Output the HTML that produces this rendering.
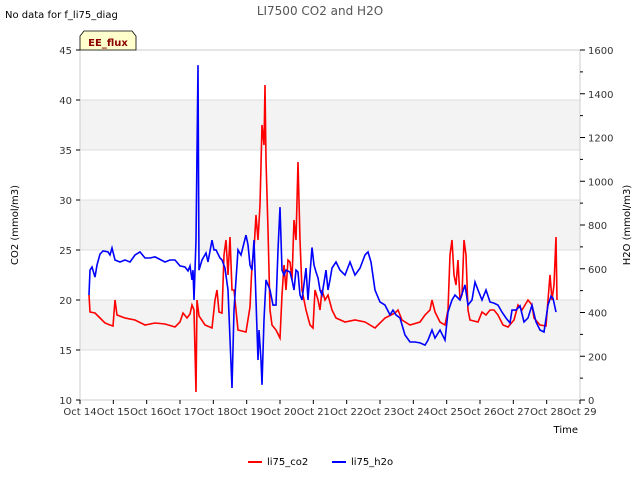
<!DOCTYPE html>
<html><head><meta charset="utf-8"><style>
body{margin:0;background:#fff;font-family:"Liberation Sans","DejaVu Sans",sans-serif}
svg text{font-family:"DejaVu Sans","Liberation Sans",sans-serif}
</style></head><body>
<svg id="chart" width="640" height="480" xmlns="http://www.w3.org/2000/svg">
<rect width="640" height="480" fill="#fff"/>
<text x="5" y="18" font-size="10" fill="#000">No data for f_li75_diag</text>
<text x="320" y="15" font-size="12" fill="#555" text-anchor="middle">LI7500 CO2 and H2O</text>
<g id="bands"></g>
<g id="grid"></g>
<rect x="80" y="50" width="500" height="350" fill="none" stroke="#ccc"/>
<g id="xaxis"></g>
<g id="yleft"></g>
<g id="yright"></g>
<g clip-path="url(#clip)">
<clipPath id="clip"><rect x="80" y="50" width="500" height="350"/></clipPath>
<path id="co2line" fill="none" stroke="#f00" stroke-width="1.6"/>
<path id="h2oline" fill="none" stroke="#00f" stroke-width="1.6"/>
</g>
<g>
<path d="M80,50 L80,36 L84,31 L132,31 L136,36 L136,50 Z" fill="#ffffcc" stroke="#000" stroke-width="0.8"/>
<text x="108" y="46" font-size="10" font-weight="bold" fill="#8b0000" text-anchor="middle">EE_flux</text>
</g>
<text transform="translate(18,225) rotate(-90)" font-size="10" text-anchor="middle">CO2 (mmol/m3)</text>
<text transform="translate(630,225) rotate(-90)" font-size="10" text-anchor="middle">H2O (mmol/m3)</text>
<text x="578" y="433" font-size="10" text-anchor="end">Time</text>
<g>
<line x1="248" y1="462" x2="262" y2="462" stroke="#f00" stroke-width="2"/>
<text x="267" y="465" font-size="10">li75_co2</text>
<line x1="332" y1="462" x2="346" y2="462" stroke="#00f" stroke-width="2"/>
<text x="351" y="465" font-size="10">li75_h2o</text>
</g>
</svg>
<script>
const xTickLabels=["Oct 14","Oct 15","Oct 16","Oct 17","Oct 18","Oct 19","Oct 20","Oct 21","Oct 22","Oct 23","Oct 24","Oct 25","Oct 26","Oct 27","Oct 28","Oct 29"];
const yLeftTicks=[10,15,20,25,30,35,40,45];
const yRightTicks=[0,200,400,600,800,1000,1200,1400,1600];
const co2Days=[.27,.30,.45,.6,.75,.9,.99,1.05,1.11,1.35,1.65,1.95,2.25,2.55,2.85,3.0,3.09,3.21,3.3,3.36,3.42,3.48,3.51,3.57,3.75,3.96,4.05,4.11,4.17,4.26,4.32,4.38,4.44,4.5,4.56,4.62,4.74,4.98,5.1,5.16,5.22,5.28,5.34,5.4,5.46,5.52,5.55,5.58,5.64,5.7,5.76,5.88,6.0,6.06,6.12,6.18,6.24,6.3,6.36,6.42,6.48,6.54,6.6,6.66,6.78,6.9,6.99,7.05,7.14,7.2,7.26,7.35,7.44,7.56,7.68,7.95,8.25,8.55,8.85,9.15,9.45,9.54,9.66,9.9,10.2,10.35,10.5,10.56,10.65,10.8,10.95,11.04,11.1,11.16,11.22,11.28,11.34,11.4,11.46,11.52,11.58,11.64,11.7,11.94,12.06,12.18,12.3,12.42,12.54,12.69,12.84,13.02,13.14,13.26,13.44,13.56,13.62,13.8,13.98,14.04,14.1,14.16,14.22,14.28,14.31];
const co2Values=[20.5,18.8,18.7,18.2,17.7,17.5,17.4,20.0,18.5,18.2,18.0,17.5,17.7,17.6,17.3,17.8,18.7,18.2,18.6,19.5,19.0,10.8,20.0,18.4,17.5,17.2,20.0,21.0,18.8,18.7,24.5,26.0,22.5,26.3,21.0,21.0,17.0,16.8,19.3,23.5,25.0,28.5,26.0,29.5,37.5,35.5,41.5,34.0,27.0,19.0,17.5,17.0,16.2,20.5,23.5,21.0,24.0,23.8,22.0,28.0,26.0,33.8,26.0,21.0,19.0,17.5,17.2,21.0,20.0,19.0,21.0,20.0,20.5,19.0,18.2,17.8,18.0,17.8,17.2,18.2,18.7,19.0,18.0,17.5,17.8,18.5,19.0,20.0,18.8,17.8,17.5,19.0,24.5,26.0,22.5,21.5,24.0,20.0,20.5,26.0,24.5,19.0,18.0,17.8,18.8,18.5,19.0,19.0,18.5,17.5,17.3,18.0,19.5,19.0,20.0,19.5,18.2,17.5,17.4,20.0,22.5,20.0,21.5,26.3,20.0];
const h2oDays=[.27,.30,.36,.45,.51,.6,.69,.84,.9,.96,1.05,1.2,1.35,1.5,1.65,1.8,1.95,2.1,2.25,2.55,2.7,2.85,3.0,3.15,3.24,3.3,3.36,3.39,3.42,3.48,3.54,3.57,3.66,3.78,3.84,3.96,4.02,4.08,4.2,4.26,4.35,4.44,4.56,4.62,4.68,4.74,4.83,4.92,4.98,5.04,5.1,5.16,5.22,5.28,5.34,5.37,5.43,5.46,5.52,5.58,5.7,5.79,5.88,5.94,6.0,6.06,6.12,6.18,6.3,6.36,6.42,6.48,6.54,6.6,6.66,6.78,6.84,6.96,7.02,7.08,7.14,7.2,7.26,7.38,7.44,7.5,7.56,7.68,7.8,7.95,8.1,8.25,8.4,8.55,8.64,8.73,8.85,9.0,9.15,9.3,9.39,9.48,9.6,9.75,9.9,10.05,10.2,10.35,10.44,10.56,10.65,10.8,10.95,11.04,11.16,11.25,11.4,11.55,11.64,11.76,11.85,11.94,12.06,12.18,12.3,12.42,12.54,12.66,12.78,12.9,12.96,13.08,13.2,13.32,13.44,13.56,13.68,13.8,13.92,14.04,14.13,14.19,14.28];
const h2oValues=[480,594,608,562,617,667,681,677,663,695,640,631,640,631,663,677,649,649,654,631,640,640,613,608,590,613,549,594,457,731,1531,594,640,672,631,731,686,686,649,640,603,503,55,411,549,686,663,718,754,709,617,594,731,457,183,320,183,69,366,549,503,434,434,686,882,594,571,594,585,549,503,594,585,480,457,603,457,697,617,585,558,503,480,594,503,549,603,631,594,571,631,571,603,663,677,631,503,448,434,389,411,389,375,297,265,265,261,251,274,320,283,320,274,402,457,480,457,526,434,457,539,503,457,503,448,443,434,402,375,352,411,411,430,357,375,434,357,320,311,434,475,466,402];
const NS="http://www.w3.org/2000/svg";
const X0=80,W=500,Y0=50,H=350;
const xS=d=>X0+d/15*W;
const yL=v=>Y0+H-(v-10)/35*H;
const yR=v=>Y0+H-v/1600*H;
function mk(tag,attrs,parent){const e=document.createElementNS(NS,tag);for(const k in attrs)e.setAttribute(k,attrs[k]);parent.appendChild(e);return e;}
const bands=document.getElementById('bands'),grid=document.getElementById('grid');
[[15,20],[25,30],[35,40]].forEach(b=>{const r=mk('rect',{x:X0,y:yL(b[1]),width:W,height:yL(b[0])-yL(b[1]),fill:'#f3f3f3'},bands);

});
yLeftTicks.forEach(v=>{const l=mk('line',{x1:X0,x2:X0+W,y1:yL(v),y2:yL(v),stroke:'#ddd'},grid);

});
const xa=document.getElementById('xaxis');
xTickLabels.forEach((t,i)=>{mk('line',{x1:xS(i),x2:xS(i),y1:400,y2:404,stroke:'#000'},xa);
const e=mk('text',{x:xS(i),y:415,'font-size':10,'text-anchor':'middle',fill:'#333'},xa);e.textContent=t;

});
const yl=document.getElementById('yleft');
yLeftTicks.forEach(v=>{mk('line',{x1:76,x2:80,y1:yL(v),y2:yL(v),stroke:'#000'},yl);
const e=mk('text',{x:72,y:yL(v)+4,'font-size':10,'text-anchor':'end',fill:'#333'},yl);e.textContent=v;

});
const yr=document.getElementById('yright');
for(let v=0;v<=1600;v+=100)mk('line',{x1:580,x2:v%200?583:585,y1:yR(v),y2:yR(v),stroke:'#000'},yr);
yRightTicks.forEach(v=>{const e=mk('text',{x:588,y:yR(v)+4,'font-size':10,fill:'#333'},yr);e.textContent=v;

});
document.getElementById('co2line').setAttribute('d',co2Days.map((d,i)=>(i?'L':'M')+xS(d).toFixed(1)+','+yL(co2Values[i]).toFixed(1)).join(''));
document.getElementById('h2oline').setAttribute('d',h2oDays.map((d,i)=>(i?'L':'M')+xS(d).toFixed(1)+','+yR(h2oValues[i]).toFixed(1)).join(''));
</script>
</body></html>
